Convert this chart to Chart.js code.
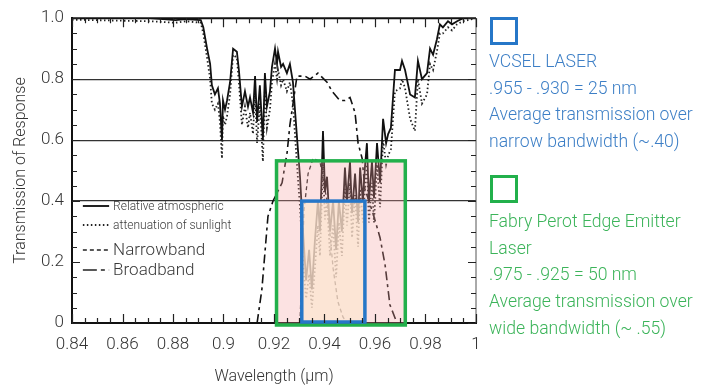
<!DOCTYPE html>
<html>
<head>
<meta charset="utf-8">
<script src="https://cdn.jsdelivr.net/npm/chart.js@4"></script>
<style>
  body { margin: 0; background: #fff; }
  #wrap { position: relative; width: 708px; height: 389px; }
  .note { position: absolute; left: 489px; font-family: Roboto, sans-serif; font-weight: 300; font-size: 17.6px; line-height: 26.7px; white-space: nowrap; }
  .sq { position: absolute; left: 490px; width: 22px; height: 22px; border: 3px solid; }
</style>
</head>
<body>
<div id="wrap">
  <canvas id="myChart" width="708" height="389"></canvas>
  <div class="sq" style="top:17px;border-color:#2677c8"></div>
  <div class="note" style="top:48px;color:#3d7fc6">VCSEL LASER<br>.955 - .930 = 25 nm<br>Average transmission over<br>narrow bandwidth (~.40)</div>
  <div class="sq" style="top:175px;border-color:#22b04b"></div>
  <div class="note" style="top:208px;color:#3cb45a">Fabry Perot Edge Emitter<br>Laser<br>.975 - .925 = 50 nm<br>Average transmission over<br>wide bandwidth (~ .55)</div>
</div>
<script>
// wavelength (um) and transmission
var atmWl = [0.840, 0.871, 0.881, 0.885, 0.891, 0.892, 0.8935, 0.8947, 0.8954, 0.8966,
  0.8978, 0.8986, 0.8994, 0.8998, 0.9006, 0.9014, 0.9026, 0.9038, 0.9053, 0.9061,
  0.9073, 0.9085, 0.9097, 0.9105, 0.9117, 0.9125, 0.9133, 0.9144, 0.9156, 0.9164,
  0.9172, 0.9184, 0.9192, 0.9204, 0.9212, 0.9216, 0.9228, 0.9236, 0.9251, 0.9263,
  0.9275, 0.9291, 0.9303, 0.9315, 0.9327, 0.9339, 0.9350, 0.9362, 0.9374, 0.9382,
  0.9394, 0.9402, 0.9410, 0.9422, 0.9434, 0.9446, 0.9457, 0.9469, 0.9481, 0.9489,
  0.9501, 0.9509, 0.9521, 0.9533, 0.9541, 0.9552, 0.9560, 0.9568, 0.9576, 0.9588,
  0.9596, 0.9608, 0.9620, 0.9632, 0.9644, 0.9652, 0.9663, 0.9679, 0.9699, 0.9707,
  0.9719, 0.9739, 0.9758, 0.9770, 0.9786, 0.9806, 0.9818, 0.9830, 0.9845, 0.9857,
  0.9869, 0.9889, 0.9905, 0.9925, 0.9949, 1.000];
var atmT = [1.00, 1.00, 0.994, 0.997, 0.994, 0.97, 0.90, 0.85, 0.78, 0.75,
  0.77, 0.72, 0.60, 0.73, 0.70, 0.73, 0.79, 0.90, 0.89, 0.83,
  0.71, 0.76, 0.71, 0.74, 0.69, 0.81, 0.66, 0.78, 0.60, 0.82,
  0.71, 0.76, 0.84, 0.90, 0.85, 0.89, 0.84, 0.85, 0.82, 0.85,
  0.79, 0.61, 0.48, 0.30, 0.14, 0.24, 0.11, 0.27, 0.40, 0.30,
  0.63, 0.43, 0.48, 0.30, 0.40, 0.24, 0.40, 0.30, 0.51, 0.40,
  0.53, 0.36, 0.49, 0.33, 0.51, 0.40, 0.51, 0.59, 0.40, 0.53,
  0.41, 0.59, 0.46, 0.67, 0.59, 0.62, 0.64, 0.83, 0.83, 0.86,
  0.83, 0.75, 0.74, 0.86, 0.80, 0.82, 0.90, 0.88, 0.93, 0.98,
  0.97, 0.99, 0.98, 0.99, 1.00, 1.00];
var sunT = [0.995, 0.99, 0.985, 0.99, 0.985, 0.95, 0.87, 0.80, 0.72, 0.70,
  0.72, 0.66, 0.54, 0.68, 0.65, 0.68, 0.75, 0.88, 0.87, 0.79,
  0.65, 0.71, 0.64, 0.69, 0.62, 0.76, 0.59, 0.72, 0.53, 0.77,
  0.64, 0.70, 0.79, 0.85, 0.80, 0.83, 0.78, 0.80, 0.76, 0.79,
  0.72, 0.52, 0.38, 0.20, 0.08, 0.16, 0.05, 0.18, 0.32, 0.22,
  0.52, 0.34, 0.40, 0.22, 0.32, 0.15, 0.33, 0.22, 0.44, 0.32,
  0.46, 0.28, 0.42, 0.25, 0.44, 0.33, 0.44, 0.52, 0.33, 0.46,
  0.33, 0.52, 0.38, 0.60, 0.52, 0.55, 0.57, 0.76, 0.77, 0.80,
  0.77, 0.67, 0.63, 0.80, 0.72, 0.75, 0.85, 0.83, 0.89, 0.95,
  0.95, 0.97, 0.96, 0.98, 0.99, 1.00];

var narrowWl = [0.9303, 0.9311, 0.9319, 0.9335, 0.9355, 0.9382, 0.9410, 0.9434, 0.9453, 0.9473, 0.9489];
var narrowT  = [0, 0.20, 0.37, 0.49, 0.54, 0.53, 0.40, 0.18, 0.07, 0.02, 0];

var broadWl = [0.9133, 0.9152, 0.9176, 0.9196, 0.9232, 0.9252, 0.9263, 0.9291, 0.9323, 0.9343,
  0.9374, 0.9410, 0.9430, 0.9461, 0.9481, 0.9501, 0.9521, 0.9533, 0.9549, 0.9560,
  0.9592, 0.9620, 0.9640, 0.9659, 0.9687];
var broadT = [0, 0.11, 0.35, 0.40, 0.46, 0.56, 0.65, 0.81, 0.81, 0.80,
  0.82, 0.79, 0.76, 0.73, 0.73, 0.74, 0.69, 0.59, 0.54, 0.44,
  0.36, 0.28, 0.19, 0.06, 0];

// laser bands drawn as boxes [from, to, top]
var vcselBand = [0.931, 0.956, 0.40];
var fabryBand = [0.921, 0.972, 0.532];

var xTickVals = [0.84, 0.86, 0.88, 0.9, 0.92, 0.94, 0.96, 0.98, 1];
var yGridVals = [0.4, 0.6, 0.8];

function pts(xs, ys) {
  return xs.map(function (x, i) { return { x: x, y: ys[i] }; });
}

var FONT = 'Roboto';
var TXT = '#333';

var extras = {
  id: 'extras',
  afterDatasetsDraw: function (chart) {
    var c = chart.ctx, xs = chart.scales.x, ys = chart.scales.y, a = chart.chartArea;
    c.save();
    // green band
    var gx0 = xs.getPixelForValue(fabryBand[0]), gx1 = xs.getPixelForValue(fabryBand[1]);
    var gy0 = ys.getPixelForValue(fabryBand[2]), gy1 = ys.getPixelForValue(0) + 2;
    c.fillStyle = 'rgba(245,160,160,0.3)';
    c.fillRect(gx0, gy0, gx1 - gx0, gy1 - gy0);
    // blue band
    var bx0 = xs.getPixelForValue(vcselBand[0]), bx1 = xs.getPixelForValue(vcselBand[1]);
    var by0 = ys.getPixelForValue(vcselBand[2]), by1 = ys.getPixelForValue(0) - 1;
    c.fillStyle = 'rgba(252,230,208,0.72)';
    c.fillRect(bx0, by0, bx1 - bx0, by1 - by0);
    c.lineWidth = 3.5;
    c.strokeStyle = '#22b04b';
    c.strokeRect(gx0, gy0, gx1 - gx0, gy1 - gy0);
    c.strokeStyle = '#2677c8';
    c.strokeRect(bx0, by0, bx1 - bx0, by1 - by0);

    // frame top + right
    c.strokeStyle = '#111';
    c.lineWidth = 2;
    c.beginPath(); c.moveTo(a.left, a.top); c.lineTo(a.right, a.top); c.stroke();
    c.lineWidth = 1;
    c.strokeStyle = '#555';
    c.beginPath(); c.moveTo(a.right, a.top); c.lineTo(a.right, a.bottom); c.stroke();

    // inward ticks
    c.strokeStyle = '#222';
    c.lineWidth = 1.2;
    c.beginPath();
    for (var i = 0; i <= 32; i++) {
      var px = Math.round(xs.getPixelForValue(0.84 + i * 0.005)) + 0.5;
      var len = (i % 4 === 0) ? 9 : 5;
      c.moveTo(px, a.bottom); c.lineTo(px, a.bottom - len);
      c.moveTo(px, a.top); c.lineTo(px, a.top + len);
    }
    for (var j = 0; j <= 20; j++) {
      var py = Math.round(ys.getPixelForValue(j * 0.05)) + 0.5;
      var l2 = (j % 4 === 0) ? 8 : 5;
      c.moveTo(a.left, py); c.lineTo(a.left + l2, py);
      c.moveTo(a.right, py); c.lineTo(a.right - l2, py);
    }
    c.stroke();

    // legend in the plot
    var lx0 = xs.getPixelForValue(0.8443), lx1 = xs.getPixelForValue(0.8547);
    var rows = [
      { y: 206, dash: [], w: 2, text: 'Relative atmospheric', size: 12 },
      { y: 225, dash: [1.5, 2.5], w: 2, text: 'attenuation of sunlight', size: 12 },
      { y: 250, dash: [4, 3], w: 1.3, text: 'Narrowband', size: 17 },
      { y: 270, dash: [14, 4, 4, 4], w: 1.5, text: 'Broadband', size: 17 }
    ];
    rows.forEach(function (r) {
      c.setLineDash(r.dash);
      c.lineWidth = r.w;
      c.strokeStyle = '#222';
      c.beginPath(); c.moveTo(lx0, r.y); c.lineTo(lx1, r.y); c.stroke();
      c.setLineDash([]);
      c.fillStyle = '#3a3a3a';
      c.font = '300 ' + r.size + 'px ' + FONT;
      c.textBaseline = 'middle';
      c.textAlign = 'left';
      c.fillText(r.text, lx1 + 4, r.y + 1);
    });
    c.restore();
  }
};

var ctx = document.getElementById('myChart').getContext('2d');
var myChart = new Chart(ctx, {
  type: 'line',
  data: {
    datasets: [
      { label: 'Relative atmospheric', data: pts(atmWl, atmT), borderColor: '#111', borderWidth: 1.8 },
      { label: 'attenuation of sunlight', data: pts(atmWl, sunT), borderColor: '#222', borderWidth: 1.8, borderDash: [1.5, 2.5] },
      { label: 'Narrowband', data: pts(narrowWl, narrowT), borderColor: '#222', borderWidth: 1.3, borderDash: [4, 3] },
      { label: 'Broadband', data: pts(broadWl, broadT), borderColor: '#111', borderWidth: 1.6, borderDash: [9, 4, 3, 4] }
    ]
  },
  options: {
    responsive: false,
    animation: false,
    devicePixelRatio: 1,
    layout: { padding: { top: 13, right: 232, left: 0, bottom: 0 } },
    elements: { point: { radius: 0 }, line: { tension: 0 } },
    plugins: { legend: { display: false }, tooltip: { enabled: false } },
    scales: {
      x: {
        type: 'linear', min: 0.84, max: 1,
        afterFit: function (s) { s.height = 66; },
        afterBuildTicks: function (s) { s.ticks = xTickVals.map(function (v) { return { value: v }; }); },
        ticks: { color: TXT, font: { family: FONT, size: 17, weight: 300 }, padding: 12, maxRotation: 0, autoSkip: false,
          callback: function (v) { return String(v); } },
        grid: { display: false, drawTicks: false },
        border: { color: '#111', width: 2 },
        title: { display: true, text: 'Wavelength (µm)', color: TXT, font: { family: FONT, size: 16, weight: 300 }, padding: { top: 0, bottom: 2 } }
      },
      y: {
        min: 0, max: 1,
        afterFit: function (s) { s.width = 72; },
        ticks: { stepSize: 0.2, color: TXT, font: { family: FONT, size: 17, weight: 300 }, padding: 8 },
        grid: {
          drawTicks: false,
          lineWidth: 1.2,
          color: function (c) { return yGridVals.indexOf(Math.round(c.tick.value * 10) / 10) >= 0 ? '#333' : 'rgba(0,0,0,0)'; }
        },
        border: { color: '#111', width: 2 },
        title: { display: true, text: 'Transmission of Response', color: TXT, font: { family: FONT, size: 16, weight: 300 }, padding: { top: 11 } }
      }
    }
  },
  plugins: [extras]
});
</script>
</body>
</html>
